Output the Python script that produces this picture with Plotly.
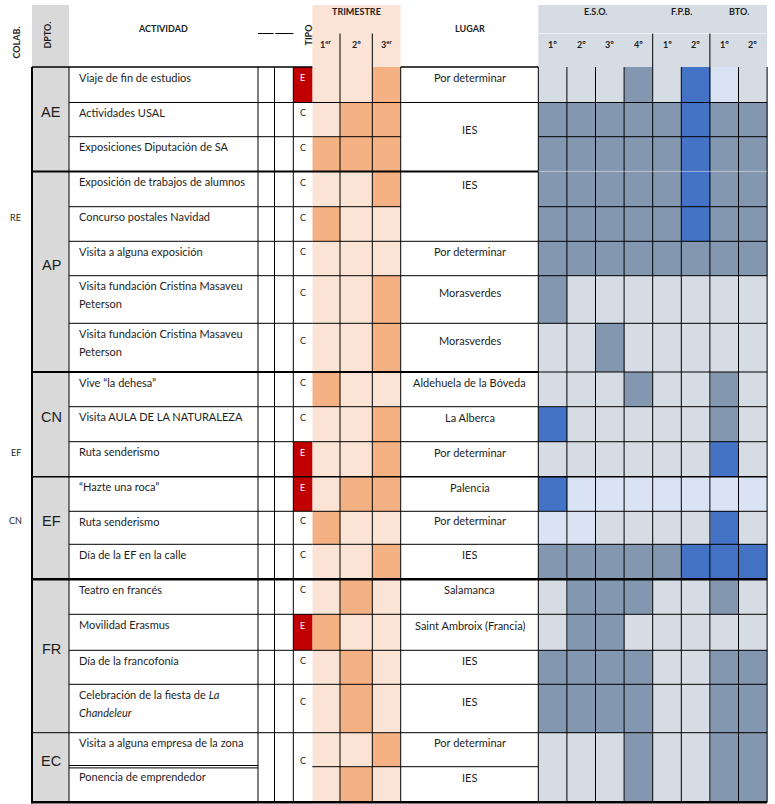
import plotly.graph_objects as go

# ---------------- data ----------------
dept_names = ["AE", "AP", "CN", "EF", "FR", "EC"]
dept_sizes = [3, 5, 3, 3, 4, 2]

activities = [
    "Viaje de fin de estudios",
    "Actividades USAL",
    "Exposiciones Diputación de SA",
    "Exposición de trabajos de alumnos",
    "Concurso postales Navidad",
    "Visita a alguna exposición",
    "Visita fundación Cristina Masaveu<br>Peterson",
    "Visita fundación Cristina Masaveu<br>Peterson",
    "Vive “la dehesa”",
    "Visita AULA DE LA NATURALEZA",
    "Ruta senderismo",
    "“Hazte una roca”",
    "Ruta senderismo",
    "Día de la EF en la calle",
    "Teatro en francés",
    "Movilidad Erasmus",
    "Día de la francofonía",
    "Celebración de la fiesta de <i>La</i><br><i>Chandeleur</i>",
    "Visita a alguna empresa de la zona",
    "Ponencia de emprendedor",
]

tipo_values = ["E", "C", "C", "C", "C", "C", "C", "C", "C", "C", "E", "E", "C", "C", "C", "E", "C", "C", "C"]
tipo_spans = [1, 1, 1, 1, 1, 1, 1, 1, 1, 1, 1, 1, 1, 1, 1, 1, 1, 1, 2]

trimestre_labels = ["1<sup>er</sup>", "2º", "3<sup>er</sup>"]
trimestre = [
    [0, 0, 1], [0, 1, 1], [1, 1, 1], [0, 0, 1], [1, 0, 0],
    [0, 0, 0], [0, 0, 1], [0, 0, 1], [1, 0, 0], [0, 0, 1],
    [0, 0, 1], [0, 1, 1], [1, 0, 0], [0, 0, 1], [0, 1, 0],
    [1, 0, 0], [0, 1, 0], [0, 1, 0], [0, 0, 1], [0, 1, 0],
]

lugar_values = ["Por determinar", "IES", "IES", "Por determinar", "Morasverdes", "Morasverdes",
                "Aldehuela de la Bóveda", "La Alberca", "Por determinar", "Palencia", "Por determinar",
                "IES", "Salamanca", "Saint Ambroix (Francia)", "IES", "IES", "Por determinar", "IES"]
lugar_spans = [1, 2, 2, 1, 1, 1, 1, 1, 1, 1, 1, 1, 1, 1, 1, 1, 1, 1]
lugar_valign = ["mid", "mid", "top", "mid", "mid", "mid", "mid", "mid", "mid", "mid", "mid",
                "mid", "mid", "mid", "mid", "mid", "mid", "mid"]

group_names = ["E.S.O.", "F.P.B.", "BTO."]
group_sizes = [4, 2, 2]
level_labels = ["1º", "2º", "3º", "4º", "1º", "2º", "1º", "2º"]
# 0 = light grey, 1 = slate, 2 = blue, 3 = pale blue
levels = [
    [0, 0, 0, 1, 0, 2, 3, 0],
    [1, 1, 1, 1, 1, 2, 1, 1],
    [1, 1, 1, 1, 1, 2, 1, 1],
    [1, 1, 1, 1, 1, 2, 1, 1],
    [1, 1, 1, 1, 1, 2, 1, 1],
    [1, 1, 1, 1, 1, 1, 1, 1],
    [1, 0, 0, 0, 0, 0, 0, 0],
    [0, 0, 1, 0, 0, 0, 0, 0],
    [0, 0, 0, 1, 0, 0, 1, 0],
    [2, 0, 0, 0, 0, 0, 1, 0],
    [0, 0, 0, 0, 0, 0, 2, 0],
    [2, 3, 3, 3, 3, 3, 3, 3],
    [3, 3, 0, 0, 0, 0, 2, 0],
    [1, 1, 1, 1, 1, 2, 2, 2],
    [0, 1, 1, 1, 0, 0, 1, 0],
    [0, 1, 1, 0, 0, 0, 0, 0],
    [1, 1, 1, 1, 0, 0, 1, 1],
    [1, 1, 1, 1, 0, 0, 1, 1],
    [0, 0, 0, 1, 0, 0, 1, 1],
    [0, 0, 0, 1, 0, 0, 1, 1],
]

colab_labels = ["RE", "EF", "CN"]
colab_rows = [4, 10, 12]

# ---------------- layout geometry (page pixel coordinates) ----------------
W, H = 775, 804
row_edges = [67, 102.5, 136.7, 171.4, 206.7, 241.3, 275.7, 323.3, 372, 406.7, 441.7,
             476.7, 511.3, 544.3, 579.3, 614.3, 650.3, 684.3, 732.7, 766.7, 802.3]
Y_TOP, Y_MID, Y_HDR = 5, 33.5, 67
X_COLAB = 15.5
X_L, X_DPTO_R, X_ACT_R, X_B1_R, X_B2_R, X_TIPO_R = 32, 69, 258, 274.5, 293.3, 312.3
trim_edges = [312.3, 340, 372.3, 400.7]
X_LUGAR_R = 538.3
eso_edges = [538.3, 566.9, 595.5, 624.1, 652.7, 681.3, 709.9, 738.5, 767.1]

C_GREY_DPTO = "#d9d9d9"
C_PEACH = "#fbe4d5"
C_ORANGE = "#f4b183"
C_RED = "#c00000"
C_HDR_ESO = "#d6dce4"
LEVEL_COLORS = ["#d6dce4", "#8497b0", "#4472c4", "#dae3f3"]
TXT = "#1e1e1e"
FONT = "Lato"

fig = go.Figure()

# trimester heatmap
fig.add_trace(go.Heatmap(
    x=trim_edges, y=row_edges, z=trimestre, zmin=0, zmax=1,
    colorscale=[[0, C_PEACH], [0.5, C_PEACH], [0.5, C_ORANGE], [1, C_ORANGE]],
    showscale=False, hoverinfo="skip"))

# tipo heatmap (expanded from spans)
tipo_rows = []
for v, s in zip(tipo_values, tipo_spans):
    tipo_rows += [[1 if v == "E" else 0]] * s
fig.add_trace(go.Heatmap(
    x=[X_B2_R, X_TIPO_R], y=row_edges, z=tipo_rows, zmin=0, zmax=1,
    colorscale=[[0, "white"], [0.5, "white"], [0.5, C_RED], [1, C_RED]],
    showscale=False, hoverinfo="skip"))

# levels heatmap
n = len(LEVEL_COLORS)
cs = []
for i, c in enumerate(LEVEL_COLORS):
    cs += [[i / n, c], [(i + 1) / n, c]]
fig.add_trace(go.Heatmap(
    x=eso_edges, y=row_edges, z=levels, zmin=-0.5, zmax=n - 0.5,
    colorscale=cs, showscale=False, hoverinfo="skip"))

shapes = []
annotations = []


def rect(x0, x1, y0, y1, color):
    shapes.append(dict(type="rect", xref="x", yref="y", x0=x0, x1=x1, y0=y0, y1=y1,
                       fillcolor=color, line=dict(width=0), layer="below"))


def line(x0, x1, y0, y1, w=1, color="black"):
    shapes.append(dict(type="line", xref="x", yref="y", x0=x0, x1=x1, y0=y0, y1=y1,
                       line=dict(width=w, color=color), layer="above"))


def text(x, y, t, size=11, color=TXT, xanchor="center", family=FONT, angle=0):
    annotations.append(dict(x=x, y=y, xref="x", yref="y", text=t, showarrow=False,
                            xanchor=xanchor, yanchor="middle", textangle=angle,
                            font=dict(family=family, size=size, color=color)))


# backgrounds
rect(X_L, X_DPTO_R, Y_TOP, row_edges[-1], C_GREY_DPTO)
rect(trim_edges[0], trim_edges[-1], Y_TOP, Y_HDR, C_PEACH)
rect(eso_edges[0], eso_edges[-1], Y_TOP, Y_HDR, C_HDR_ESO)

# ---- header text ----
text(X_COLAB, 43, "<b>COLAB.</b>", size=9, angle=-90)
text(46.5, 35, "<b>DPTO.</b>", size=9, angle=-90)
text(163, 28, "<b>ACTIVIDAD</b>", size=9)
text(307.5, 35, "<b>TIPO</b>", size=9, angle=-90)
text((trim_edges[0] + trim_edges[-1]) / 2, 11, "<b>TRIMESTRE</b>", size=9)
for i, lab in enumerate(trimestre_labels):
    text((trim_edges[i] + trim_edges[i + 1]) / 2, 44, "<b>" + lab + "</b>", size=9)
text(470, 28, "<b>LUGAR</b>", size=9)
k = 0
for g, s in zip(group_names, group_sizes):
    text((eso_edges[k] + eso_edges[k + s]) / 2, 11, "<b>" + g + "</b>", size=9)
    k += s
for i, lab in enumerate(level_labels):
    text((eso_edges[i] + eso_edges[i + 1]) / 2, 44, "<b>" + lab + "</b>", size=9)

# header lines
line(X_ACT_R, X_B1_R - 0.8, Y_MID, Y_MID, 1)
line(X_B1_R + 0.8, X_B2_R, Y_MID, Y_MID, 1)
line(eso_edges[0], eso_edges[-1], Y_MID, Y_MID, 1, "rgba(255,255,255,0.6)")
for x in trim_edges[1:3]:
    line(x, x, Y_MID, Y_HDR, 1)
k = 0
for s in group_sizes[:-1]:
    k += s
    line(eso_edges[k], eso_edges[k], Y_MID, Y_HDR, 1)

# ---- body text ----
mid = lambda a, b: (a + b) / 2
r = 0
for name, s in zip(dept_names, dept_sizes):
    text(mid(X_L, X_DPTO_R) + 0.5, mid(row_edges[r], row_edges[r + s]) - 7, name, size=14.5,
         family="Liberation Sans")
    r += s

for i, a in enumerate(activities):
    for j, ln in enumerate(a.split("<br>")):
        text(77, row_edges[i] + 10 + j * 17.7, ln, size=11, xanchor="left")

r = 0
for v, s in zip(tipo_values, tipo_spans):
    text(302.8, mid(row_edges[r], row_edges[r + s]) - 7, v, size=9,
         color="white" if v == "E" else TXT)
    r += s

r = 0
for v, s, va in zip(lugar_values, lugar_spans, lugar_valign):
    y = row_edges[r] + 13 if va == "top" else mid(row_edges[r], row_edges[r + s]) - 7
    text(mid(trim_edges[-1], X_LUGAR_R), y, v, size=11)
    r += s

for lab, ri in zip(colab_labels, colab_rows):
    text(X_COLAB, mid(row_edges[ri], row_edges[ri + 1]) - 7, lab, size=9)

# ---- body grid lines ----
Y0, Y1 = row_edges[0], row_edges[-1]
line(X_L, X_L, Y0, Y1 + 1, 2)
for x in [X_DPTO_R, X_ACT_R, X_B1_R, X_B2_R, trim_edges[1], trim_edges[2], trim_edges[3]]:
    line(x, x, Y0, Y1, 1)
for x in eso_edges:
    line(x, x, Y0, Y1, 1)
# top of body
line(X_L, X_TIPO_R, Y0, Y0, 1.5)
line(trim_edges[-1], X_LUGAR_R, Y0, Y0, 1.5)
# bottom
line(X_L - 1, eso_edges[-1], Y1, Y1, 2.5)

# dept boundaries
dept_edges = []
r = 0
for s in dept_sizes[:-1]:
    r += s
    dept_edges.append(r)
dept_style = {3: (2, 0, "rgba(255,255,255,0.45)"), 8: (2, 1, "black"), 11: (1.5, 1.5, "black"),
              14: (2.5, 2.5, "black"), 18: (1, 1, "black")}

# merged cells -> no horizontal line inside
lugar_inner = []
r = 0
for s in lugar_spans:
    lugar_inner += [r + t for t in range(1, s)]
    r += s
tipo_inner = []
r = 0
for s in tipo_spans:
    tipo_inner += [r + t for t in range(1, s)]
    r += s

for e in range(1, len(row_edges) - 1):
    y = row_edges[e]
    if e in dept_edges:
        wl, we, ce = dept_style[e]
        line(X_L, X_LUGAR_R, y, y, wl)
        line(X_LUGAR_R, eso_edges[-1], y, y, max(we, 1), ce)
        continue
    if e in tipo_inner:
        line(X_DPTO_R, X_ACT_R, y - 1.2, y - 1.2, 1)
        line(X_DPTO_R, X_ACT_R, y + 1.2, y + 1.2, 1)
    else:
        line(X_DPTO_R, X_TIPO_R, y, y, 1)
    line(trim_edges[0], trim_edges[-1], y, y, 1)
    if e not in lugar_inner:
        line(trim_edges[-1], X_LUGAR_R, y, y, 1)
    if e not in tipo_inner:
        line(eso_edges[0], eso_edges[-1], y, y, 1)

fig.update_layout(
    width=W, height=H, margin=dict(l=0, r=0, t=0, b=0, pad=0),
    paper_bgcolor="white", plot_bgcolor="white",
    xaxis=dict(range=[0, W], visible=False, fixedrange=True),
    yaxis=dict(range=[H, 0], visible=False, fixedrange=True),
    shapes=shapes, annotations=annotations, showlegend=False,
)
# remove the default page margin so the plot fills the window exactly
fig.write_html("out.html", config={"displayModeBar": False},
               post_script="document.body.style.margin='0';document.body.style.overflow='hidden';")
